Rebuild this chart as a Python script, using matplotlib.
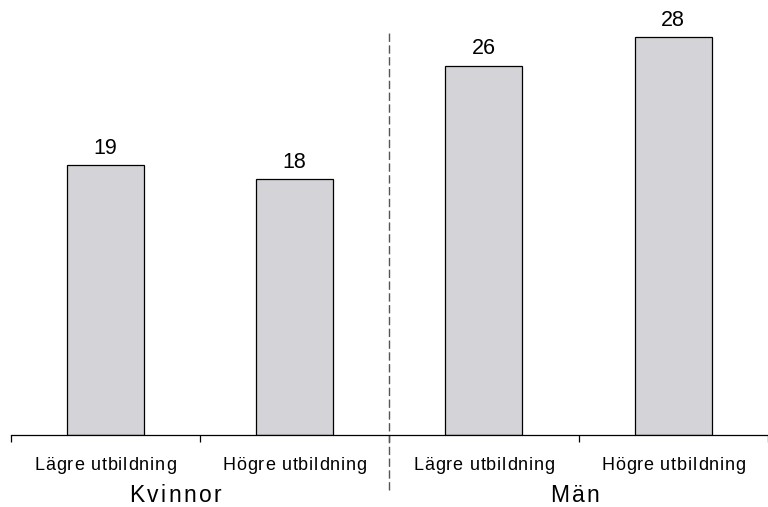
import matplotlib.pyplot as plt
from matplotlib.font_manager import FontProperties
import numpy as np

plt.rcParams['font.family'] = ['Liberation Sans', 'DejaVu Sans']

# data
categories = ["Lägre utbildning", "Högre utbildning", "Lägre utbildning", "Högre utbildning"]
values = [19, 18, 26, 28]
groups = ["Kvinnor", "Män"]
group_pos = [0.37, 2.48]

W, H = 768, 507
step = 190.3  # pixels per category
fig = plt.figure(figsize=(W / 100, H / 100), dpi=100)
ax = fig.add_axes([10.5 / W, (H - 435) / H, 757.5 / W, 426.3 / H])


def spaced_text(x_data, y_px, s, size, track):
    # text with extra letter spacing, centred on x_data, y_px from top
    r = fig.canvas.get_renderer()
    fp = FontProperties(family=['Liberation Sans', 'DejaVu Sans'], size=size)

    def w(t):
        return r.get_text_width_height_descent(t, fp, ismath=False)[0]

    bar = w("|")
    adv = [w(s[:i] + "|") - bar for i in range(len(s) + 1)]
    total = adv[-1] + track * (len(s) - 1)
    xc = ax.transData.transform((x_data, 0))[0]
    x0 = xc - total / 2
    for i, ch in enumerate(s):
        if ch == " ":
            continue
        fig.text((x0 + adv[i] + i * track) / W, (H - y_px) / H, ch,
                 fontproperties=fp, ha="left", va="center")


x = np.arange(len(values))
bars = ax.bar(x, values, width=0.407, color="#d4d4d8", edgecolor="black", linewidth=0.9)
ax.bar_label(bars, labels=[str(v) for v in values], padding=4.5, fontsize=15.5)

ax.set_xlim(-0.5, -0.5 + 757.5 / step)
ax.set_ylim(0, 30)

for s in ["left", "right", "top"]:
    ax.spines[s].set_visible(False)
ax.spines["bottom"].set_linewidth(0.9)
ax.set_yticks([])

# ticks on the boundaries, labels drawn separately
ax.set_xticks(np.arange(-0.5, 4, 1.0))
ax.set_xticklabels([])
ax.tick_params(axis="x", which="major", direction="out", length=5, width=0.9)

# dashed separator between the groups
ax.plot([1.5, 1.5], [-3.85, 28.5], ls=(0, (6, 2.5)), color="#555555", lw=1, clip_on=False)

for xi, c in zip(x, categories):
    spaced_text(xi, 465, c, 13, 0.85)

for g, p in zip(groups, group_pos):
    spaced_text(p, 495.5, g, 16.5, 2.5)

fig.savefig("out.png", dpi=100)
